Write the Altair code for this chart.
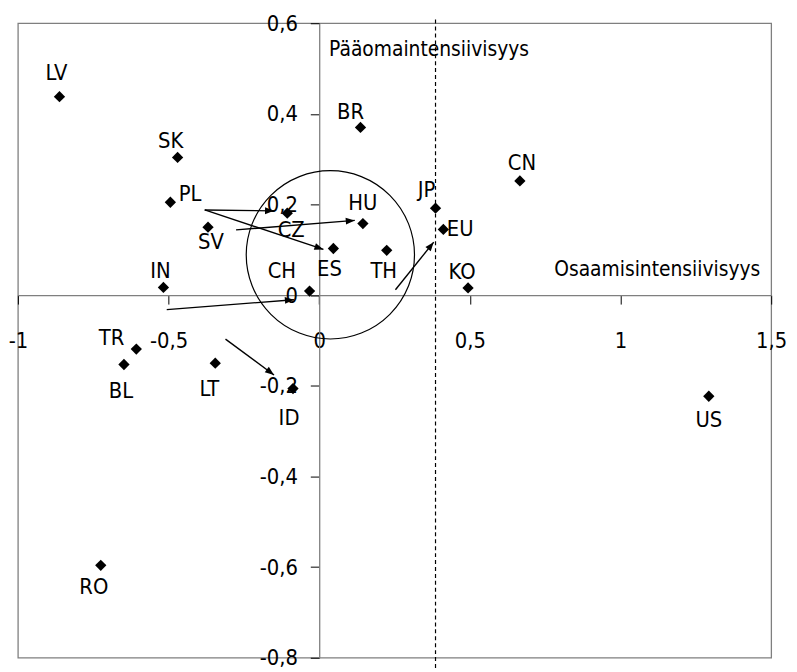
import math
import altair as alt
import pandas as pd

# ---- data ----
codes = ["LV", "SK", "PL", "SV", "IN", "CZ", "HU", "ES", "CH", "BR", "TH",
         "JP", "EU", "KO", "CN", "US", "TR", "BL", "LT", "ID", "RO"]
osaamis = [-0.862, -0.470, -0.494, -0.369, -0.517, -0.106, 0.145, 0.047, -0.032, 0.137, 0.224,
           0.386, 0.412, 0.494, 0.666, 1.293, -0.607, -0.648, -0.345, -0.087, -0.725]
paaoma = [0.438, 0.304, 0.205, 0.150, 0.017, 0.181, 0.158, 0.103, 0.009, 0.370, 0.099,
          0.192, 0.145, 0.016, 0.252, -0.223, -0.119, -0.153, -0.150, -0.206, -0.596]

# label placement relative to each marker (pixels)
label_dx = [-3, -7, 20, 3, -3, 4, 0, -4, -28, -10, -3, -9, 17, -6, 2, 0, -25, -3, -6, -4, -7]
label_dy = [-24, -16, -8, 15, -17, 17, -21, 21, -20, -16, 21, -18, 0, -16, -18, 24, -11, 27, 26, 30, 22]

# arrows (start -> end)
arrow_x0 = [-0.380, -0.380, -0.276, -0.506, -0.311, 0.253]
arrow_y0 = [0.188, 0.188, 0.144, -0.032, -0.097, 0.012]
arrow_x1 = [-0.150, 0.014, 0.118, -0.084, -0.150, 0.380]
arrow_y1 = [0.186, 0.101, 0.165, -0.010, -0.176, 0.117]

# circle and dashed reference line
circle_x = [0.037]
circle_y = [0.089]
dashed_x = [0.386]

x_ticks = [-1, -0.5, 0, 0.5, 1, 1.5]
y_ticks = [-0.8, -0.6, -0.4, -0.2, 0, 0.2, 0.4, 0.6]

x_title = "Osaamisintensiivisyys"
y_title = "Pääomaintensiivisyys"

# ---- layout ----
W, H = 761, 641
XMIN, XMAX = -1.0, 1.5
YMIN, YMAX = -0.8, 0.6
kx = W / (XMAX - XMIN)
ky = H / (YMAX - YMIN)
FONT = "DejaVu Sans Condensed, Roboto Condensed, Open Sans Condensed, Lato, sans-serif"

xs = alt.Scale(domain=[XMIN, XMAX], nice=False, zero=False)
ys = alt.Scale(domain=[YMIN, YMAX], nice=False, zero=False)

pts = pd.DataFrame({"code": codes, "x": osaamis, "y": paaoma,
                    "lx": [a + d / kx for a, d in zip(osaamis, label_dx)],
                    "ly": [b - d / ky for b, d in zip(paaoma, label_dy)]})

ang = []
for a, b, c, d in zip(arrow_x0, arrow_y0, arrow_x1, arrow_y1):
    dxp = (c - a) * kx
    dyp = -(d - b) * ky
    ang.append(math.degrees(math.atan2(dxp, -dyp)) % 360)
arr = pd.DataFrame({"x0": arrow_x0, "y0": arrow_y0, "x1": arrow_x1, "y1": arrow_y1, "ang": ang})

lab_expr = "replace(toString(datum.value), '.', ',')"

base_axes = alt.Chart(pts).mark_point(opacity=0).encode(
    x=alt.X("x:Q", scale=xs, axis=alt.Axis(
        values=x_ticks, orient="bottom", offset=-(0 - YMIN) * ky,
        title=None, grid=False, labelExpr=lab_expr, labelFont=FONT, labelFontSize=22,
        labelColor="black", labelPadding=27, tickSize=9, tickColor="black",
        domainColor="#7f7f7f", domainWidth=1.3, labelFlush=False, labelOverlap=False)),
    y=alt.Y("y:Q", scale=ys, axis=alt.Axis(
        values=y_ticks, orient="left", offset=-(0 - XMIN) * kx,
        title=None, grid=False, labelExpr=lab_expr, labelFont=FONT, labelFontSize=22,
        labelColor="black", labelPadding=13, tickSize=9, tickColor="black",
        domainColor="#7f7f7f", domainWidth=1.3, labelFlush=False, labelOverlap=False)),
)

dash = alt.Chart(pd.DataFrame({"x": dashed_x, "ya": [YMAX + 0.008], "yb": [YMIN - 0.03]})).mark_rule(
    color="black", strokeDash=[4, 3], strokeWidth=1.2, clip=False).encode(
    x=alt.X("x:Q", scale=xs), y=alt.Y("ya:Q", scale=ys), y2="yb:Q")

circle = alt.Chart(pd.DataFrame({"x": circle_x, "y": circle_y})).mark_point(
    shape="circle", size=170 ** 2, filled=False, color="black", strokeWidth=1.2, opacity=1).encode(
    x=alt.X("x:Q", scale=xs), y=alt.Y("y:Q", scale=ys))

shafts = alt.Chart(arr).mark_rule(color="black", strokeWidth=1.4).encode(
    x=alt.X("x0:Q", scale=xs), y=alt.Y("y0:Q", scale=ys), x2="x1:Q", y2="y1:Q")

heads = alt.Chart(arr).mark_point(
    shape="M0,0L0.38,1L-0.38,1Z", filled=True, color="black", size=330, opacity=1).encode(
    x=alt.X("x1:Q", scale=xs), y=alt.Y("y1:Q", scale=ys), angle=alt.Angle("ang:Q", scale=None))

markers = alt.Chart(pts).mark_point(shape="diamond", filled=True, color="black", size=130, opacity=1).encode(
    x=alt.X("x:Q", scale=xs), y=alt.Y("y:Q", scale=ys))

labels = alt.Chart(pts).mark_text(font=FONT, fontSize=22, color="black", baseline="middle", align="center").encode(
    x=alt.X("lx:Q", scale=xs), y=alt.Y("ly:Q", scale=ys), text="code:N")

ytitle = alt.Chart(pd.DataFrame({"t": [y_title], "x": [0], "y": [YMAX]})).mark_text(
    font=FONT, fontSize=21, color="black", baseline="middle", align="left", dx=10, dy=27).encode(
    x=alt.X("x:Q", scale=xs), y=alt.Y("y:Q", scale=ys), text="t:N")

xtitle = alt.Chart(pd.DataFrame({"t": [x_title], "x": [XMAX], "y": [0]})).mark_text(
    font=FONT, fontSize=21, color="black", baseline="middle", align="right", dx=-11, dy=-25).encode(
    x=alt.X("x:Q", scale=xs), y=alt.Y("y:Q", scale=ys), text="t:N")

chart = alt.layer(base_axes, dash, circle, shafts, heads, markers, labels, ytitle, xtitle).properties(
    width=W, height=H,
    autosize=alt.AutoSizeParams(type="none"),
    padding={"left": 10, "top": 12, "right": 18, "bottom": 10},
).configure_view(stroke="#7f7f7f", strokeWidth=1.3)

chart.save("out.html", embed_options={"renderer": "svg", "actions": False})
